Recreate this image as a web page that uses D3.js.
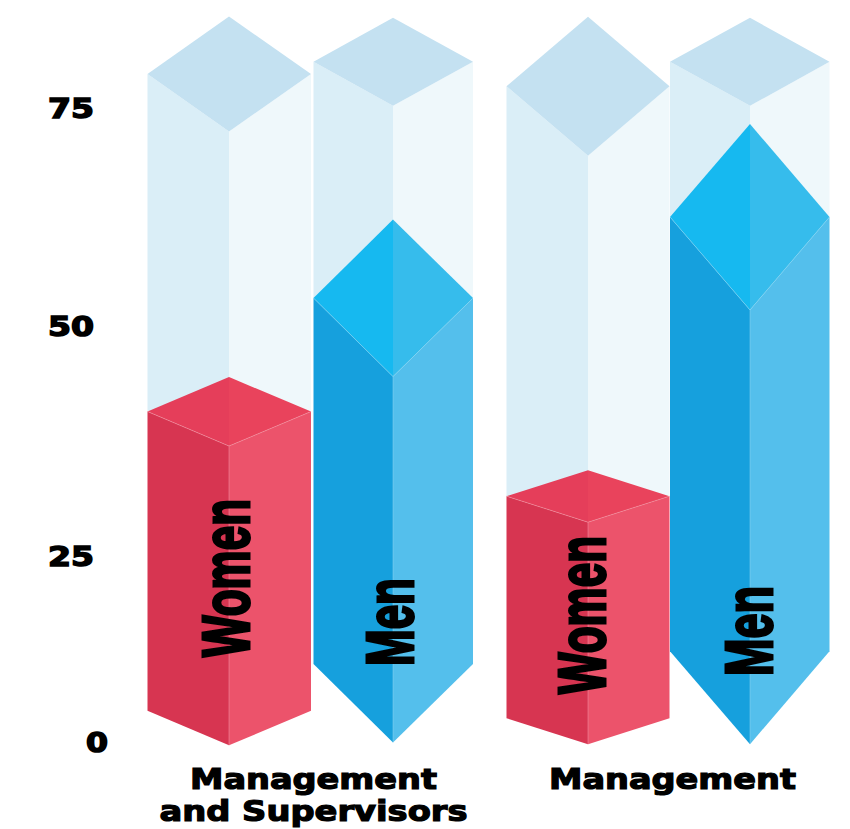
<!DOCTYPE html>
<html><head><meta charset="utf-8">
<script src="https://cdn.jsdelivr.net/npm/d3@7/dist/d3.min.js"></script>
<style>html,body{margin:0;padding:0;background:#fff}svg{display:block}</style>
</head><body><div id="chart"></div>
<script>
// Data
const groups = ["Management and Supervisors", "Management"];
const groupLines = [["Management", "and Supervisors"], ["Management"]];
const series = ["Women", "Men"];
const barKeys = ["g0-Women", "g0-Men", "g1-Women", "g1-Men"];
const fillValues = [40.7, 53.2, 31.5, 62.5];
const baseValues = [4.2, 10.5, 3.2, 12.2];
const ceilingValues = [78.9, 80.3, 77.5, 80.3];
const tickValues = [0, 25, 50, 75];

// Layout (the drawing's hand-drawn axis is not evenly spaced)
const y = d3.scaleLinear().domain(tickValues).range([742, 556, 326, 108]);
const xLeft = d3.scaleOrdinal(barKeys, [147.5, 313.5, 506.5, 670]);
const xMid = d3.scaleOrdinal(barKeys, [229, 393, 588, 750]);
const xRight = d3.scaleOrdinal(barKeys, [311, 473, 669.5, 829.5]);
const fillDepth = d3.scaleOrdinal(barKeys, [34.5, 78.5, 26, 93]);
const ceilingDepth = d3.scaleOrdinal(barKeys, [57.5, 44, 69.5, 44]);
const labelBox = d3.scaleOrdinal(barKeys, [[249, 657, 158], [413, 666, 88], [605, 694, 158], [772, 676, 90]]);
const groupCenter = d3.scaleOrdinal(groups, [313.5, 672.5]);
const lineWidth = d3.scaleOrdinal(["Management", "and Supervisors"], [247, 308]);

const colors = {
  Women: {left: "#d73551", right: "#ec536b", topL: "#e53e5a", topR: "#e9435c", edge: "#f39aa8"},
  Men: {left: "#16a0dd", right: "#54bfec", topL: "#16b9f0", topR: "#36bcec", edge: "#8ed6f3"},
  ghost: {left: "#daeef7", right: "#eff8fb", top: "#c4e1f1"}
};

const svg = d3.select("#chart").append("svg").attr("width", 850).attr("height", 829);
const poly = d3.line();
const seriesOf = k => k.split("-")[1];

const bars = svg.selectAll("g.bar").data(barKeys).join("g").attr("class", "bar");

// Pale full-height prism behind each bar
bars.each(function (k, i) {
  const g = d3.select(this);
  const L = xLeft(k), M = xMid(k), R = xRight(k);
  const yc = y(ceilingValues[i]), dc = ceilingDepth(k);
  const yf = y(fillValues[i]), df = fillDepth(k);
  g.append("path").attr("fill", colors.ghost.left)
    .attr("d", poly([[L, yc], [M, yc + dc], [M, yf], [L, yf]]) + "Z");
  g.append("path").attr("fill", colors.ghost.right)
    .attr("d", poly([[M, yc + dc], [R, yc], [R, yf], [M, yf]]) + "Z");
  g.append("path").attr("fill", colors.ghost.top)
    .attr("d", poly([[L, yc], [M, yc - dc], [R, yc], [M, yc + dc]]) + "Z");

  // Solid prism
  const c = colors[seriesOf(k)];
  const yb = y(baseValues[i]);
  g.append("path").attr("fill", c.left)
    .attr("d", poly([[L, yf], [M, yf + df], [M, yb + df], [L, yb]]) + "Z");
  g.append("path").attr("fill", c.right)
    .attr("d", poly([[M, yf + df], [R, yf], [R, yb], [M, yb + df]]) + "Z");
  g.append("path").attr("fill", c.topL)
    .attr("d", poly([[L, yf], [M, yf - df], [M, yf + df]]) + "Z");
  g.append("path").attr("fill", c.topR)
    .attr("d", poly([[M, yf - df], [R, yf], [M, yf + df]]) + "Z");
  g.append("path").attr("fill", "none").attr("stroke", c.edge).attr("stroke-width", 0.5)
    .attr("d", poly([[L, yf], [M, yf + df], [R, yf]]) + "M" + M + "," + (yf + df) + "L" + M + "," + (yb + df));
});

// Rotated series labels
bars.append("text")
  .text(k => seriesOf(k))
  .attr("transform", k => { const b = labelBox(k); return `translate(${b[0]},${b[1]}) rotate(-90)`; })
  .attr("textLength", k => labelBox(k)[2])
  .attr("lengthAdjust", "spacingAndGlyphs")
  .attr("font-family", "'Liberation Sans', Arial, sans-serif")
  .attr("font-weight", 700)
  .attr("font-size", 67)
  .attr("fill", "#000")
  .attr("stroke", "#000")
  .attr("stroke-width", 3);

// Value axis
const axis = svg.append("g").attr("transform", "translate(94,0)")
  .call(d3.axisLeft(y).tickValues(tickValues).tickSize(0).tickPadding(0));
axis.select(".domain").remove();
axis.selectAll("text")
  .attr("font-family", "'DejaVu Sans', sans-serif")
  .attr("font-weight", 700)
  .attr("font-size", 27)
  .attr("fill", "#000")
  .attr("stroke", "#000")
  .attr("stroke-width", 1.5)
  .attr("dy", "0.36em")
  .attr("dx", d => d === 0 ? 14 : 0)
  .attr("textLength", d => d === 0 ? 22 : 46)
  .attr("lengthAdjust", "spacingAndGlyphs");

// Group labels
const lineBaselines = [789, 821];
groups.forEach((g, gi) => {
  groupLines[gi].forEach((t, li) => {
    svg.append("text").text(t)
      .attr("x", groupCenter(g))
      .attr("y", lineBaselines[li])
      .attr("text-anchor", "middle")
      .attr("font-family", "'DejaVu Sans', sans-serif")
      .attr("font-weight", 700)
      .attr("font-size", 28)
      .attr("fill", "#000")
      .attr("stroke", "#000")
      .attr("stroke-width", 1.2)
      .attr("textLength", lineWidth(t))
      .attr("lengthAdjust", "spacingAndGlyphs");
  });
});
</script></body></html>
